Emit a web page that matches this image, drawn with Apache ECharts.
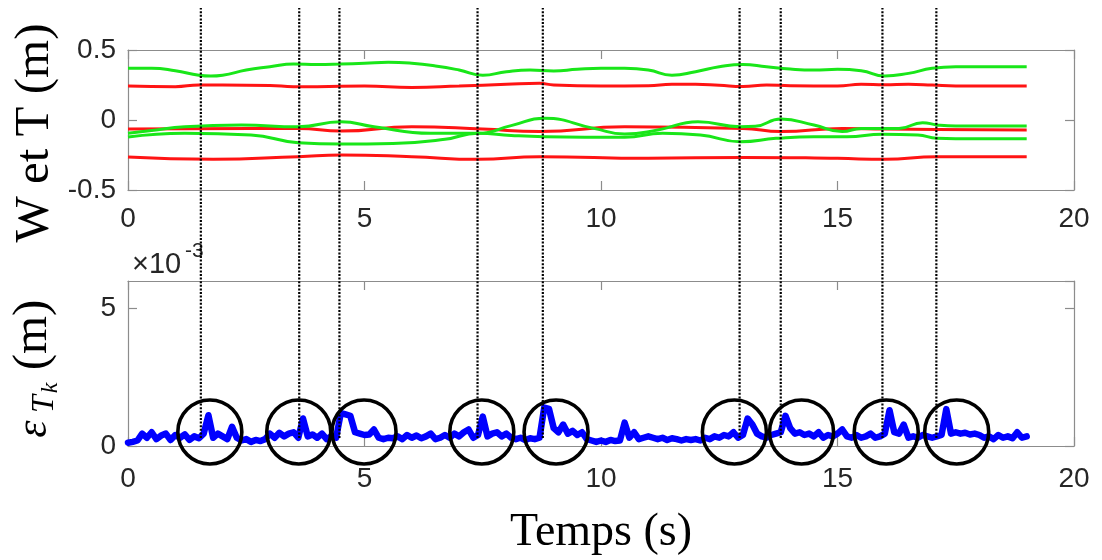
<!DOCTYPE html>
<html>
<head>
<meta charset="utf-8">
<script src="https://cdn.jsdelivr.net/npm/echarts@6/dist/echarts.min.js"></script>
<style>
html,body{margin:0;padding:0;background:#fff;}
#chart{width:1102px;height:560px;}
</style>
</head>
<body>
<div id="chart"></div>
<script>
// ---------- DATA ----------
// Top panel: W (green) and T (red) trajectories, [time s, metres]
const greenTop = [[0,0.369],[0.5,0.37],[1,0.352],[1.5,0.32],[1.75,0.314],[2,0.32],[2.5,0.357],[3,0.38],[3.5,0.4],[4,0.397],[4.5,0.4],[5,0.405],[5.5,0.412],[6,0.405],[6.5,0.386],[7,0.357],[7.5,0.32],[8,0.345],[8.5,0.357],[9,0.35],[9.5,0.362],[10,0.369],[10.5,0.369],[11,0.357],[11.5,0.32],[12,0.345],[12.5,0.38],[13,0.397],[13.5,0.38],[14,0.364],[14.5,0.357],[15,0.362],[15.5,0.352],[16,0.314],[16.5,0.333],[17,0.369],[17.5,0.38],[18,0.38],[19,0.38]];
const redTop = [[0,0.243],[1,0.238],[1.5,0.25],[2,0.25],[3,0.247],[3.5,0.238],[4,0.238],[5,0.243],[6,0.233],[7,0.243],[8,0.255],[8.7,0.262],[9,0.25],[10,0.243],[11,0.245],[11.5,0.255],[12,0.255],[12.5,0.248],[13,0.24],[13.5,0.25],[14,0.245],[15,0.243],[15.5,0.255],[16,0.252],[16.5,0.255],[17,0.25],[17.5,0.243],[19,0.243]];
const greenMidA = [[0,-0.095],[0.5,-0.075],[1.2,-0.048],[2.4,-0.036],[3.6,-0.048],[4.5,-0.012],[5.2,-0.048],[6.4,-0.095],[7.4,-0.095],[8.1,-0.04],[8.8,0.012],[9.85,-0.06],[10.5,-0.1],[11.2,-0.071],[12.05,-0.012],[12.95,-0.048],[13.26,-0.045],[13.8,0.007],[14.5,-0.036],[15.1,-0.083],[15.5,-0.06],[16.3,-0.06],[16.8,-0.019],[17.1,-0.035],[17.5,-0.043],[19,-0.043]];
const greenMidB = [[0,-0.122],[1.2,-0.095],[2.6,-0.107],[3.6,-0.162],[4.5,-0.171],[5.6,-0.167],[6.7,-0.138],[7.4,-0.095],[8.1,-0.11],[8.8,-0.119],[10.5,-0.124],[11.3,-0.095],[12.1,-0.107],[12.95,-0.155],[13.7,-0.131],[14.5,-0.119],[15.2,-0.119],[15.95,-0.102],[16.7,-0.107],[17.1,-0.131],[17.5,-0.134],[19,-0.134]];
const redMid = [[0,-0.064],[2.6,-0.06],[3.6,-0.06],[4.5,-0.079],[6,-0.048],[7.5,-0.065],[8.7,-0.083],[10.5,-0.048],[13,-0.06],[13.8,-0.083],[15.1,-0.06],[16,-0.065],[17.1,-0.068],[19,-0.071]];
const redBottom = [[0,-0.265],[1.8,-0.281],[3.6,-0.262],[4.5,-0.25],[6,-0.262],[7.4,-0.281],[8.7,-0.262],[11,-0.274],[13,-0.267],[15,-0.274],[16,-0.281],[17.1,-0.262],[19,-0.262]];

// Bottom panel: error eps_Tk (x1e-3 m), sampled every errStep seconds from t=0
const errStep = 0.1;
const errValues = [
 0.12,0.15,0.2,0.45,0.3,0.5,0.25,0.38,0.45,0.22,
 0.4,0.3,0.42,0.22,0.35,0.28,0.45,1.12,0.3,0.45,
 0.35,0.25,0.7,0.3,0.2,0.25,0.15,0.22,0.18,0.25,
 0.45,0.3,0.48,0.35,0.45,0.5,0.3,1.0,0.35,0.42,
 0.3,0.45,0.25,0.35,0.3,1.2,1.15,1.1,0.5,0.45,
 0.4,0.42,0.6,0.3,0.25,0.3,0.28,0.35,0.25,0.4,
 0.3,0.38,0.28,0.35,0.45,0.25,0.3,0.4,0.3,0.45,
 0.35,0.5,0.6,0.3,0.4,1.07,0.35,0.45,0.5,0.35,
 0.45,0.3,0.25,0.3,0.22,0.28,0.25,0.3,1.4,1.35,
 0.65,0.5,0.78,0.45,0.55,0.4,0.5,0.25,0.2,0.15,
 0.2,0.15,0.22,0.18,0.2,0.85,0.3,0.5,0.25,0.3,
 0.35,0.3,0.25,0.3,0.22,0.28,0.25,0.2,0.25,0.22,
 0.25,0.2,0.3,0.25,0.35,0.3,0.4,0.35,0.5,0.3,
 0.4,1.0,0.78,0.45,0.35,0.3,0.4,0.45,0.5,1.1,
 0.65,0.45,0.5,0.4,0.45,0.35,0.5,0.3,0.4,0.35,
 0.45,0.6,0.35,0.3,0.4,0.3,0.35,0.45,0.3,0.35,
 0.45,1.3,0.5,0.45,0.78,0.3,0.35,0.3,0.4,0.35,
 0.3,0.35,0.4,1.34,0.45,0.5,0.45,0.48,0.42,0.45,
 0.4,0.3,0.35,0.25,0.4,0.3,0.35,0.28,0.5,0.3,
 0.35
];
// Event instants (vertical dotted lines) and circled zones (centre t, value x1e-3)
const eventTimes = [1.54, 3.62, 4.47, 7.39, 8.77, 12.93, 13.80, 15.95, 17.09];
const circleCenters = [[1.73,0.51],[3.61,0.51],[4.99,0.51],[7.48,0.51],[9.05,0.51],[12.82,0.51],[14.24,0.51],[16.03,0.51],[17.52,0.51]];

const xTicks = {min:0, max:20, interval:5};
const topY = {min:-0.5, max:0.5, interval:0.5};
const botY = {min:0, max:6, interval:5};

// ---------- STYLE ----------
const axisColor = '#8c8c8c';
const labelColor = '#262626';
const tickFont = 'Liberation Sans';

function xAx(grid, pos, showLabel, margin){
  return {gridIndex:grid, type:'value', position:pos, min:xTicks.min, max:xTicks.max, interval:xTicks.interval,
    axisLine:{show:true, onZero:false, lineStyle:{color:axisColor, width:1.2}},
    axisTick:{show:true, inside:true, length:9, lineStyle:{color:axisColor, width:1.2}},
    axisLabel:{show:showLabel, margin:margin, color:labelColor, fontFamily:tickFont, fontSize:28},
    splitLine:{show:false}};
}
function yAx(grid, pos, rng, showLabel){
  return {gridIndex:grid, type:'value', position:pos, min:rng.min, max:rng.max, interval:rng.interval,
    axisLine:{show:true, onZero:false, lineStyle:{color:axisColor, width:1.2}},
    axisTick:{show:true, inside:true, length:9, lineStyle:{color:axisColor, width:1.2}},
    axisLabel:{show:showLabel, margin:12, color:labelColor, fontFamily:tickFont, fontSize:28},
    splitLine:{show:false}};
}
function topLine(data, color){
  return {type:'line', xAxisIndex:0, yAxisIndex:0, data:data, smooth:0.5, showSymbol:false,
    lineStyle:{color:color, width:3}, z:2, silent:true};
}

const errData = errValues.map((v,i)=>[+(i*errStep).toFixed(2), v]);

const series = [
  topLine(greenTop,'#19e619'),
  topLine(redTop,'#ff1414'),
  topLine(redMid,'#ff1414'),
  topLine(greenMidA,'#19e619'),
  topLine(greenMidB,'#19e619'),
  topLine(redBottom,'#ff1414'),
  {type:'line', xAxisIndex:2, yAxisIndex:2, data:errData, showSymbol:false, silent:true,
    lineStyle:{color:'#0000ff', width:6.5, join:'round', cap:'round'}, z:2},
  {type:'scatter', xAxisIndex:2, yAxisIndex:2, data:circleCenters, symbol:'circle', symbolSize:64, silent:true,
    itemStyle:{color:'rgba(0,0,0,0)', borderColor:'#000', borderWidth:3.6, opacity:1}, z:5}
];
eventTimes.forEach(t=>{
  series.push({type:'line', xAxisIndex:4, yAxisIndex:4, data:[[t,0],[t,1]], showSymbol:false, silent:true,
    lineStyle:{color:'#000', width:2.2, type:[2,1.6]}, z:10});
});

const option = {
  animation:false,
  backgroundColor:'#fff',
  grid:[
    {left:128, right:28, top:50, height:140},
    {left:128, right:28, top:281, height:165},
    {left:128, right:28, top:8, height:430}
  ],
  xAxis:[
    xAx(0,'bottom',true,15), xAx(0,'top',false,0),
    xAx(1,'bottom',true,19), xAx(1,'top',false,0),
    {gridIndex:2, type:'value', min:xTicks.min, max:xTicks.max, show:false}
  ],
  yAxis:[
    yAx(0,'left',topY,true), yAx(0,'right',topY,false),
    yAx(1,'left',botY,true), yAx(1,'right',botY,false),
    {gridIndex:2, type:'value', min:0, max:1, show:false}
  ],
  series:series,
  graphic:[
    {type:'text', x:35, y:133, rotation:Math.PI/2, style:{text:'W et T (m)', font:'49px "Liberation Serif"', fill:'#000', textAlign:'center', textVerticalAlign:'middle'}},
    {type:'text', x:33, y:335, rotation:Math.PI/2, style:{text:'(m)', font:'49px "Liberation Serif"', fill:'#000', textAlign:'center', textVerticalAlign:'middle'}},
    {type:'text', x:34, y:429, rotation:Math.PI/2, style:{text:'ε', font:'italic 44px "Liberation Serif"', fill:'#000', textAlign:'center', textVerticalAlign:'middle'}},
    {type:'text', x:45, y:404, rotation:Math.PI/2, style:{text:'T', font:'italic 32px "Liberation Serif"', fill:'#000', textAlign:'center', textVerticalAlign:'middle'}},
    {type:'text', x:51, y:388, rotation:Math.PI/2, style:{text:'k', font:'italic 24px "Liberation Serif"', fill:'#000', textAlign:'center', textVerticalAlign:'middle'}},
    {type:'text', x:601, y:533, style:{text:'Temps (s)', font:'46px "Liberation Serif"', fill:'#000', textAlign:'center', textVerticalAlign:'middle'}},
    {type:'text', x:132, y:265, style:{text:'×10', font:'29px "Liberation Sans"', fill:labelColor, textAlign:'left', textVerticalAlign:'middle'}},
    {type:'text', x:185, y:251, style:{text:'-3', font:'21px "Liberation Sans"', fill:labelColor, textAlign:'left', textVerticalAlign:'middle'}}
  ]
};

const chart = echarts.init(document.getElementById('chart'), null, {renderer:'canvas'});
chart.setOption(option);
</script>
</body>
</html>
